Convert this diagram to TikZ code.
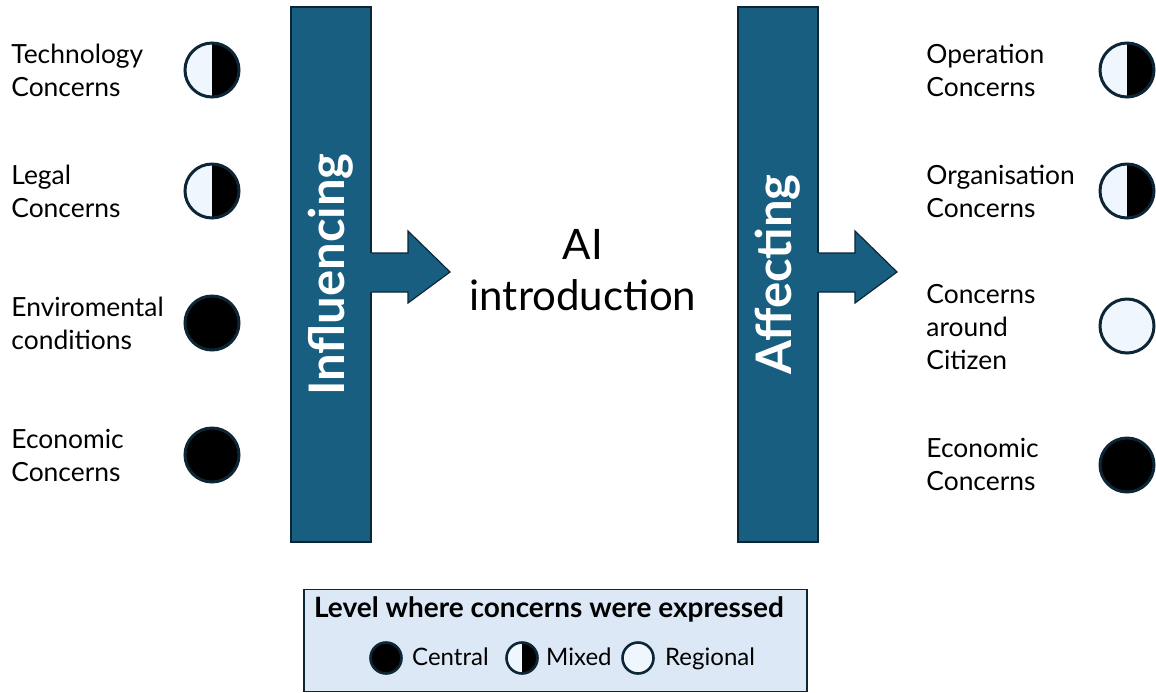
\documentclass[tikz,border=0pt]{standalone}
\usepackage{fontspec}
\setmainfont{Lato}
\usetikzlibrary{calc,positioning}
\definecolor{barblue}{RGB}{24,94,128}
\definecolor{edgeblue}{RGB}{12,38,54}
\definecolor{paleblue}{RGB}{239,246,253}
\definecolor{keyblue}{RGB}{220,232,245}
\tikzset{
    bar/.style={draw=edgeblue, line width=0.6pt, fill=barblue,
                minimum width=40pt, minimum height=267.5pt, inner sep=0pt,
                text=white, font=\bfseries\fontsize{24.5}{26}\selectfont},
    % the level markers: a filled disc, a pale disc, or half of each
    lvl/.style={circle, draw=edgeblue, line width=1.5pt,
                minimum size=27pt, inner sep=0pt},
    central/.style={lvl, fill=black},
    regional/.style={lvl, fill=paleblue},
    mixed/.style={lvl, fill=paleblue,
                  path picture={\fill[black] (path picture bounding box.north)
                                rectangle (path picture bounding box.south east);}},
    small/.style={minimum size=15.5pt, line width=1.3pt},
    concern/.style={anchor=west, align=left, inner sep=0pt,
                    font=\fontsize{13.2}{16.5}\selectfont},
    keytext/.style={inner sep=0pt, text height=0.8em, text depth=0.08em,
                    font=\fontsize{12}{14}\selectfont}
}

\begin{document}
\begin{tikzpicture}[x=0.5pt,y=-0.5pt]
  \useasboundingbox (0,0) rectangle (1156,692);

  % the two bars, each with its arrow
  \fill[barblue] (369,253) -- (408,253) -- (408,231) -- (450,272)
                 -- (408,303) -- (408,292) -- (369,292) -- cycle;
  \node[bar] (infl) at (331,274.5) {\rotatebox{90}{Influencing}};
  \fill[barblue] ($(infl.east)+(-2,-21.5)$) rectangle ($(infl.east)+(1,17.5)$);
  \draw[edgeblue, line width=0.6pt] ($(infl.east)+(0,-21.5)$) -- (408,253)
      -- (408,231) -- (450,272) -- (408,303) -- (408,292) -- ($(infl.east)+(0,17.5)$);

  \fill[barblue] (816,253) -- (855,253) -- (855,231) -- (897,272)
                 -- (855,303) -- (855,292) -- (816,292) -- cycle;
  \node[bar] (affe) at (778,274.5) {\rotatebox{90}{Affecting}};
  \fill[barblue] ($(affe.east)+(-2,-21.5)$) rectangle ($(affe.east)+(1,17.5)$);
  \draw[edgeblue, line width=0.6pt] ($(affe.east)+(0,-21.5)$) -- (855,253)
      -- (855,231) -- (897,272) -- (855,303) -- (855,292) -- ($(affe.east)+(0,17.5)$);

  \node[align=center, font=\fontsize{21}{25.5}\selectfont] (ai) at (583,270)
      {AI\\introduction};

  % left side
  \node[concern] (tech) at (11,70)  {Technology\\Concerns};
  \node[concern] (legal) at (11,191) {Legal\\Concerns};
  \node[concern] (envi) at (11,323) {Enviromental\\conditions};
  \node[concern] (econl) at (11,455) {Economic\\Concerns};
  \node[mixed]   (techlvl)  at (212,70)  {};
  \node[mixed]   (legallvl) at (212,191) {};
  \node[central] (envilvl)  at (212,323) {};
  \node[central] (econllvl) at (212,455) {};

  % right side
  \node[concern] (oper) at (926,70)  {Operation\\Concerns};
  \node[concern] (orga) at (926,191) {Organisation\\Concerns};
  \node[concern] (citi) at (926,327) {Concerns\\around\\Citizen};
  \node[concern] (econr) at (926,464) {Economic\\Concerns};
  \node[mixed]    (operlvl)  at (1127,70)  {};
  \node[mixed]    (orgalvl)  at (1127,191) {};
  \node[regional] (citilvl)  at (1127,326) {};
  \node[central]  (econrlvl) at (1127,465) {};

  % legend
  \node[draw=edgeblue, line width=0.7pt, fill=keyblue, minimum width=251.5pt,
        minimum height=51pt] (key) at (555.5,640.5) {};
  \node[keytext, font=\bfseries\fontsize{14}{16}\selectfont] (keytitle) at (549,610)
      {Level where concerns were expressed};
  \node[central, small]  (kc) at (386,658) {};
  \node[keytext, right=4.5pt of kc] (kct) {Central};
  \node[mixed, small]    (km) at (522,658) {};
  \node[keytext, right=3.5pt of km] (kmt) {Mixed};
  \node[regional, small] (kr) at (638,658) {};
  \node[keytext, right=5pt of kr] (krt) {Regional};

\end{tikzpicture}
\end{document}
